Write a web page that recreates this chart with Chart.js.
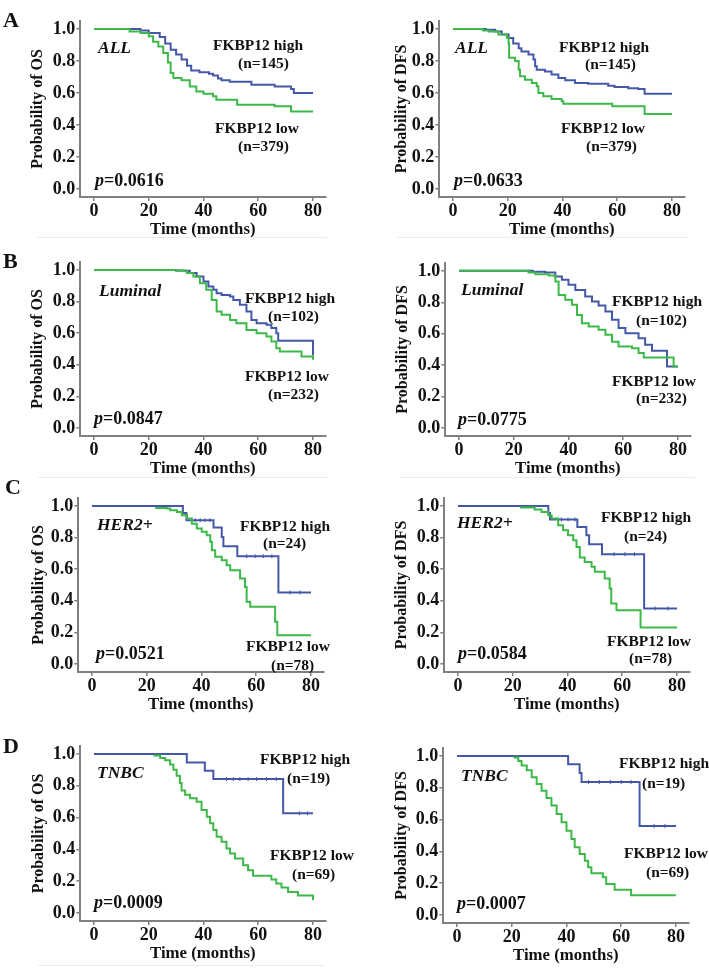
<!DOCTYPE html>
<html>
<head>
<meta charset="utf-8">
<script src="https://cdn.jsdelivr.net/npm/chart.js@4.4.0/dist/chart.umd.min.js"></script>
<style>
  body { margin: 0; background: #fff; }
  #fig { position: relative; width: 709px; height: 980px; overflow: hidden;
         font-family: 'Liberation Serif', 'Times New Roman', serif; font-weight: bold; color: #111; }
  #fig canvas { position: absolute; }
  .t { position: absolute; white-space: nowrap; line-height: 1; transform: translateY(-50%); font-size: 15.5px; }
  .letter { font-size: 22px; }
  .grp { font-size: 17.5px; font-style: italic; }
  .pv { font-size: 18px; }
  .pv i { font-style: italic; }
  .sep { position: absolute; height: 1px; background: #ececec; }
</style>
</head>
<body>
<div id="fig"></div>
<script>
// x ticks (months) and y ticks (probability)
const xTicks = [0, 20, 40, 60, 80];
const yTicks = [0, 0.2, 0.4, 0.6, 0.8, 1.0];

// ---- A: ALL ----
const aOsHighT = [0, 17, 20, 24, 26, 28, 30, 32, 34, 35.5, 38.5, 42, 43.5, 45.3, 46.6, 49.6, 57.5, 66, 72, 73, 80];
const aOsHighS = [1, 0.99, 0.975, 0.95, 0.91, 0.87, 0.84, 0.81, 0.77, 0.74, 0.73, 0.72, 0.71, 0.69, 0.68, 0.67, 0.652, 0.64, 0.625, 0.60, 0.60];
const aOsLowT = [0, 13, 17, 20, 21.6, 23.5, 25.3, 27, 28, 29, 32, 35, 37.4, 40, 43.5, 44.7, 52.3, 66, 72, 80];
const aOsLowS = [1, 0.985, 0.975, 0.955, 0.92, 0.89, 0.85, 0.79, 0.725, 0.694, 0.68, 0.64, 0.61, 0.596, 0.58, 0.558, 0.527, 0.517, 0.485, 0.485];
const aDfsHighT = [0, 12, 15.4, 17.8, 20.3, 22, 24, 25, 27.6, 29.4, 30, 30.6, 33.6, 36, 38.5, 41, 44.6, 49.4, 56.7, 59, 64, 67.6, 70, 80];
const aDfsHighS = [1, 0.995, 0.985, 0.965, 0.944, 0.91, 0.88, 0.86, 0.84, 0.81, 0.767, 0.746, 0.735, 0.715, 0.694, 0.68, 0.663, 0.658, 0.646, 0.638, 0.63, 0.625, 0.596, 0.596];
const aDfsLowT = [0, 11, 13, 16.6, 19.7, 20.3, 20.5, 22.7, 24, 24.5, 26.3, 28.8, 30.6, 31.2, 33, 36, 39.7, 40.3, 58.2, 70, 80];
const aDfsLowS = [1, 0.99, 0.985, 0.965, 0.944, 0.91, 0.82, 0.80, 0.746, 0.704, 0.683, 0.663, 0.642, 0.60, 0.58, 0.562, 0.548, 0.533, 0.517, 0.469, 0.469];

// ---- B: Luminal ----
const bOsHighT = [0, 30, 33.3, 35, 37.5, 40, 41.8, 43.6, 44.8, 46.6, 49.7, 50.9, 53.3, 55.7, 57.5, 59.4, 63, 64.8, 66.6, 67.3, 80];
const bOsHighS = [1, 0.997, 0.994, 0.98, 0.958, 0.926, 0.895, 0.874, 0.853, 0.842, 0.832, 0.81, 0.779, 0.737, 0.684, 0.663, 0.653, 0.632, 0.60, 0.552, 0.459];
const bOsLowT = [0, 30, 33.9, 36.3, 38.7, 41, 43, 44.8, 46.6, 49.7, 52, 55.7, 59.4, 63, 64.8, 66.6, 67.9, 75.8, 80];
const bOsLowS = [1, 0.995, 0.98, 0.958, 0.916, 0.874, 0.81, 0.737, 0.716, 0.684, 0.663, 0.62, 0.60, 0.579, 0.547, 0.505, 0.484, 0.453, 0.432];
const bDfsHighT = [0, 27, 31.5, 35.2, 37.6, 40, 42.5, 46.1, 48.6, 51, 53.5, 55.9, 58.3, 60.8, 65.6, 68, 70.5, 76, 80];
const bDfsHighS = [1, 0.995, 0.99, 0.964, 0.943, 0.911, 0.879, 0.837, 0.805, 0.78, 0.742, 0.689, 0.636, 0.604, 0.572, 0.53, 0.492, 0.392, 0.392];
const bDfsLowT = [0, 25.4, 27.9, 32.8, 35.2, 36.4, 38.8, 41.3, 43.1, 44.9, 47.4, 51, 53.5, 55.9, 58.3, 63.2, 65.6, 67.5, 78.4, 80];
const bDfsLowS = [1, 0.99, 0.979, 0.97, 0.932, 0.847, 0.816, 0.784, 0.72, 0.667, 0.646, 0.625, 0.593, 0.55, 0.519, 0.508, 0.477, 0.449, 0.392, 0.392];

// ---- C: HER2+ ----
const cOsHighT = [0, 33.2, 34.5, 44.4, 47.4, 48, 53.1, 68.1, 80];
const cOsHighS = [1, 0.955, 0.91, 0.863, 0.804, 0.745, 0.682, 0.453, 0.453];
const cOsHighCens = [37.7, 39.5, 41.3, 43.1, 56.5, 59.6, 62.6, 65.7, 72.3, 76];
const cOsLowT = [23.1, 27.4, 28.6, 31, 32.8, 34.7, 36.5, 38.3, 40.1, 41.9, 43.2, 43.8, 45, 47.4, 49.2, 50.5, 54.1, 55.9, 56.5, 57.8, 66.9, 67.7, 80];
const cOsLowS = [0.987, 0.983, 0.973, 0.962, 0.941, 0.92, 0.888, 0.857, 0.836, 0.815, 0.773, 0.72, 0.678, 0.657, 0.625, 0.594, 0.541, 0.488, 0.394, 0.362, 0.267, 0.183, 0.183];
const cDfsHighT = [0, 33, 33.6, 43.6, 46.9, 47.9, 52.6, 68, 80];
const cDfsHighS = [1, 0.955, 0.914, 0.867, 0.815, 0.758, 0.695, 0.352, 0.352];
const cDfsHighCens = [37.8, 40.2, 42.7, 57, 61, 64.5, 72, 76.7];
const cDfsLowT = [22.6, 28, 30.5, 33, 34.2, 36.6, 38.4, 40.2, 42.1, 43.3, 44.5, 46.3, 48.8, 50, 53.6, 55.4, 56, 57.9, 66.7, 80];
const cDfsLowS = [0.99, 0.977, 0.962, 0.941, 0.92, 0.878, 0.846, 0.815, 0.783, 0.741, 0.674, 0.646, 0.615, 0.583, 0.541, 0.478, 0.383, 0.341, 0.232, 0.232];

// ---- D: TNBC ----
const dOsHighT = [0, 33.9, 40.5, 43.6, 69.1, 80];
const dOsHighS = [1, 0.947, 0.895, 0.842, 0.627, 0.627];
const dOsHighCens = [48.4, 50.9, 53.3, 56.3, 59.4, 63, 66.6, 75, 78];
const dOsLowT = [21.7, 24.2, 26, 27.8, 29, 30.2, 31.4, 32, 33.3, 35.1, 37.5, 39.3, 41.2, 42.4, 43.6, 44.8, 46.6, 48.4, 49.7, 51.5, 54.5, 56.3, 58.1, 64.8, 66.6, 68.5, 70.9, 74.5, 80];
const dOsLowS = [0.99, 0.975, 0.96, 0.933, 0.9, 0.863, 0.817, 0.77, 0.743, 0.722, 0.7, 0.648, 0.606, 0.564, 0.522, 0.48, 0.448, 0.406, 0.375, 0.343, 0.301, 0.269, 0.234, 0.211, 0.185, 0.16, 0.133, 0.111, 0.08];
const dDfsHighT = [0, 40.6, 44.8, 45.5, 66.7, 80];
const dDfsHighS = [1, 0.948, 0.893, 0.836, 0.56, 0.56];
const dDfsHighCens = [48, 52, 56, 60, 63.6, 72, 76];
const dDfsLowT = [20.6, 22.4, 23.6, 25.5, 27.3, 29.1, 30.9, 32.7, 34.5, 36.4, 38.2, 40, 41.8, 43, 44.8, 46.7, 47.9, 49.1, 53.3, 54.5, 57.6, 63.6, 80];
const dDfsLowS = [0.99, 0.968, 0.94, 0.91, 0.866, 0.824, 0.782, 0.736, 0.688, 0.635, 0.583, 0.53, 0.478, 0.426, 0.384, 0.342, 0.30, 0.262, 0.237, 0.195, 0.159, 0.124, 0.124];

const BLUE = '#4558a8';
const GREEN = '#3db94a';
const AXIS = '#808080';
const FONT = "'Liberation Serif', 'Times New Roman', serif";

// panel placement (page pixels): plot box and y-title centre
const panels = [
  { col: 0, left: 80.3, top: 21, bottom: 197, titleX: 38, yTitle: 'Probability of OS', high: [aOsHighT, aOsHighS], low: [aOsLowT, aOsLowS] },
  { col: 1, left: 439.3, top: 21, bottom: 197, titleX: 401.7, yTitle: 'Probability of DFS', high: [aDfsHighT, aDfsHighS], low: [aDfsLowT, aDfsLowS] },
  { col: 0, left: 80.3, top: 262, bottom: 436, titleX: 38, yTitle: 'Probability of OS', high: [bOsHighT, bOsHighS], low: [bOsLowT, bOsLowS] },
  { col: 1, left: 445.3, top: 263, bottom: 436, titleX: 403, yTitle: 'Probability of DFS', high: [bDfsHighT, bDfsHighS], low: [bDfsLowT, bDfsLowS] },
  { col: 0, left: 78.3, top: 498, bottom: 672, titleX: 39, yTitle: 'Probability of OS', high: [cOsHighT, cOsHighS], low: [cOsLowT, cOsLowS], cens: cOsHighCens },
  { col: 1, left: 444.3, top: 498, bottom: 672, titleX: 402, yTitle: 'Probability of DFS', high: [cDfsHighT, cDfsHighS], low: [cDfsLowT, cDfsLowS], cens: cDfsHighCens },
  { col: 0, left: 80.3, top: 746, bottom: 921, titleX: 39, yTitle: 'Probability of OS', high: [dOsHighT, dOsHighS], low: [dOsLowT, dOsLowS], cens: dOsHighCens },
  { col: 1, left: 443.3, top: 748, bottom: 923, titleX: 402, yTitle: 'Probability of DFS', high: [dDfsHighT, dDfsHighS], low: [dDfsLowT, dDfsLowS], cens: dDfsHighCens }
];

// text placed over the plots: [x, centre y, class, html]
const notes = [
  [3, 20, 'letter', 'A'], [3, 261, 'letter', 'B'], [5, 487, 'letter', 'C'], [3, 746, 'letter', 'D'],
  [98, 48, 'grp', 'ALL'], [213, 45, '', 'FKBP12 high'], [238, 63, '', '(n=145)'],
  [215, 128, '', 'FKBP12 low'], [238, 146, '', '(n=379)'], [95, 180, 'pv', '<i>p</i>=0.0616'],
  [455, 48, 'grp', 'ALL'], [559, 47, '', 'FKBP12 high'], [585, 64, '', '(n=145)'],
  [561, 128, '', 'FKBP12 low'], [586, 146, '', '(n=379)'], [454, 180, 'pv', '<i>p</i>=0.0633'],
  [99, 291, 'grp', 'Luminal'], [245, 298, '', 'FKBP12 high'], [268, 316, '', '(n=102)'],
  [245, 376, '', 'FKBP12 low'], [268, 394, '', '(n=232)'], [94, 418, 'pv', '<i>p</i>=0.0847'],
  [461, 290, 'grp', 'Luminal'], [612, 301, '', 'FKBP12 high'], [636, 320, '', '(n=102)'],
  [612, 381, '', 'FKBP12 low'], [636, 398, '', '(n=232)'], [458, 419, 'pv', '<i>p</i>=0.0775'],
  [97, 525, 'grp', 'HER2+'], [240, 526, '', 'FKBP12 high'], [263, 543, '', '(n=24)'],
  [246, 646, '', 'FKBP12 low'], [271, 665, '', '(n=78)'], [96, 653, 'pv', '<i>p</i>=0.0521'],
  [457, 523, 'grp', 'HER2+'], [601, 517, '', 'FKBP12 high'], [624, 536, '', '(n=24)'],
  [607, 641, '', 'FKBP12 low'], [629, 658, '', '(n=78)'], [458, 653, 'pv', '<i>p</i>=0.0584'],
  [97, 773, 'grp', 'TNBC'], [260, 759, '', 'FKBP12 high'], [287, 778, '', '(n=19)'],
  [270, 855, '', 'FKBP12 low'], [292, 874, '', '(n=69)'], [94, 902, 'pv', '<i>p</i>=0.0009'],
  [461, 776, 'grp', 'TNBC'], [619, 763, '', 'FKBP12 high'], [642, 783, '', '(n=19)'],
  [624, 853, '', 'FKBP12 low'], [646, 872, '', '(n=69)'], [457, 903, 'pv', '<i>p</i>=0.0007']
];

const seps = [[37, 237, 290], [397, 237, 291], [38, 477, 290], [400, 477, 295], [38, 965, 287]];

const fig = document.getElementById('fig');
const COL_W = 354;
const PAD_TOP = 12;
const X_H = 47;     // height of the x axis box (ticks + labels + title)
const PAD_BOTTOM = 2;
const PLOT_W = 245;

function toPoints(arr) {
  return arr[0].map((t, i) => ({ x: t, y: arr[1][i] }));
}

// survival value of a step curve at time t (for censor ticks)
function survAt(arr, t) {
  let s = arr[1][0];
  arr[0].forEach((ti, i) => { if (ti <= t) s = arr[1][i]; });
  return s;
}

panels.forEach(p => {
  const colX = p.col ? 355 : 0;
  const canvas = document.createElement('canvas');
  const h = Math.round(p.bottom - p.top) + PAD_TOP + X_H + PAD_BOTTOM;
  canvas.width = COL_W;
  canvas.height = h;
  canvas.style.left = colX + 'px';
  canvas.style.top = Math.round(p.top - PAD_TOP) + 'px';
  fig.appendChild(canvas);

  const padLeft = p.titleX - 13.6 - colX;
  const yW = p.left - colX - padLeft;
  const padRight = colX + COL_W - (p.left + PLOT_W);

  const tickFont = { family: FONT, size: 18, weight: 'bold' };

  const datasets = [
    { label: 'FKBP12 low', data: toPoints(p.low), borderColor: GREEN, borderWidth: 2, stepped: true, pointRadius: 0, fill: false },
    { label: 'FKBP12 high', data: toPoints(p.high), borderColor: BLUE, borderWidth: 2, stepped: true, pointRadius: 0, fill: false }
  ];
  if (p.cens) {
    datasets.push({
      type: 'scatter', label: 'censored', data: p.cens.map(t => ({ x: t, y: survAt(p.high, t) })),
      pointStyle: 'line', rotation: 90, pointRadius: 2, borderColor: BLUE, borderWidth: 1, showLine: false
    });
  }

  new Chart(canvas, {
    type: 'line',
    data: { datasets },
    options: {
      responsive: false,
      animation: false,
      events: [],
      layout: { padding: { left: padLeft, right: padRight, top: PAD_TOP, bottom: PAD_BOTTOM } },
      plugins: { legend: { display: false }, tooltip: { enabled: false } },
      scales: {
        x: {
          type: 'linear', min: -5, max: 84.5,
          afterBuildTicks: s => { s.ticks = xTicks.map(v => ({ value: v })); },
          afterFit: s => { s.height = X_H; },
          grid: { drawOnChartArea: false, drawTicks: true, tickLength: 4, color: AXIS, lineWidth: 1.5 },
          border: { display: true, color: AXIS, width: 2 },
          ticks: { font: tickFont, color: '#111', padding: 0, maxRotation: 0, callback: v => String(v) },
          title: { display: true, text: 'Time (months)', font: { family: FONT, size: 16.8, weight: 'bold' }, color: '#111', padding: { top: 0, bottom: 4 } }
        },
        y: {
          type: 'linear', min: -0.05, max: 1.05,
          afterBuildTicks: s => { s.ticks = yTicks.map(v => ({ value: v })); },
          afterFit: s => { s.width = yW; },
          grid: { drawOnChartArea: false, drawTicks: true, tickLength: 4, color: AXIS, lineWidth: 1.5 },
          border: { display: true, color: AXIS, width: 2 },
          ticks: { font: tickFont, color: '#111', padding: 1, callback: v => v.toFixed(1) },
          title: { display: true, text: p.yTitle, font: { family: FONT, size: 16, weight: 'bold' }, color: '#111', padding: { top: 4, bottom: 0 } }
        }
      }
    }
  });
});

notes.forEach(n => {
  const d = document.createElement('div');
  d.className = 't ' + n[2];
  d.style.left = n[0] + 'px';
  d.style.top = n[1] + 'px';
  d.innerHTML = n[3];
  fig.appendChild(d);
});

seps.forEach(s => {
  const d = document.createElement('div');
  d.className = 'sep';
  d.style.left = s[0] + 'px';
  d.style.top = s[1] + 'px';
  d.style.width = s[2] + 'px';
  fig.appendChild(d);
});
</script>
</body>
</html>
